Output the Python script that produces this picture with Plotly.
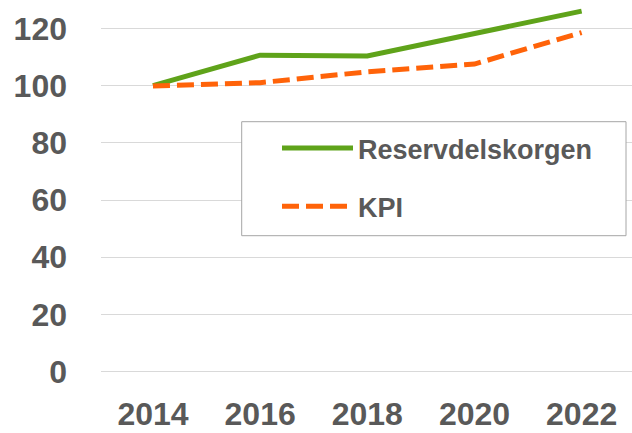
import plotly.graph_objects as go

years = [2014, 2016, 2018, 2020, 2022]
reservdelskorgen = [100, 110.6, 110.3, 118.2, 126.0]
kpi = [99.8, 101.0, 104.8, 107.5, 118.5]
y_ticks = [0, 20, 40, 60, 80, 100, 120]

TEXT = "#595959"
FONT = "Liberation Sans"

W, H = 632, 433
L, R, T, B = 101, 0, 0, 53
PW, PH = W - L - R, H - T - B


def px_x(px):
    return (px - L) / PW


def px_y(py):
    return (H - B - py) / PH


fig = go.Figure()
fig.add_trace(go.Scatter(
    x=years, y=reservdelskorgen, mode="lines", name="Reservdelskorgen",
    line=dict(color="#5FA31A", width=5), legendgroup="a"))
fig.add_trace(go.Scatter(
    x=years, y=kpi, mode="lines", name="KPI",
    line=dict(color="#FF6309", width=5, dash="17px,7px"), legendgroup="b"))

# legend frame
fig.add_shape(type="rect", xref="paper", yref="paper",
              x0=px_x(241.7), x1=px_x(626), y0=px_y(235.7), y1=px_y(121.7),
              line=dict(color="#A6A6A6", width=1), fillcolor="white", layer="above")

fig.update_layout(
    width=W, height=H,
    margin=dict(l=L, r=R, t=T, b=B, autoexpand=False),
    paper_bgcolor="white", plot_bgcolor="white",
    font=dict(family=FONT, color=TEXT),
    showlegend=True,
    legend=dict(
        x=px_x(277), y=px_y(124), xanchor="left", yanchor="top",
        borderwidth=0, bgcolor="rgba(0,0,0,0)",
        font=dict(family=FONT, size=27, color=TEXT, weight="bold"),
        itemwidth=71, tracegroupgap=20, traceorder="grouped",
    ),
    xaxis=dict(
        range=[2013.03, 2022.94], tickmode="array", tickvals=years,
        ticktext=[str(y) for y in years], showgrid=False, zeroline=False,
        showline=False, ticks="", automargin=False, ticklabelstandoff=12,
        tickfont=dict(family=FONT, size=32, color=TEXT, weight="bold"),
    ),
    yaxis=dict(
        range=[-2.9, 129.89], tickmode="array", tickvals=y_ticks,
        showgrid=True, gridcolor="#D9D9D9", gridwidth=1.3, zeroline=False,
        showline=False, ticks="", ticklabelstandoff=33, automargin=False,
        tickfont=dict(family=FONT, size=32, color=TEXT, weight="bold"),
    ),
)

fig.write_html("out.html",
               config={"displayModeBar": False},
               post_script="document.body.style.margin='0px';document.body.style.overflow='hidden';")
